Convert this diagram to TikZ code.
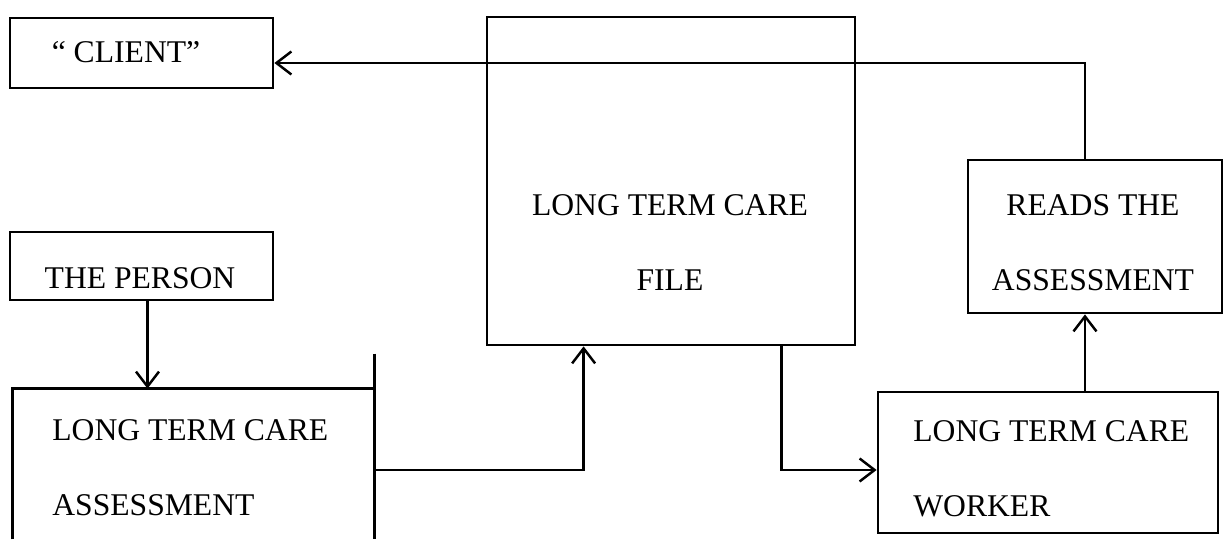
\documentclass[tikz,border=0pt]{standalone}
\usepackage{fontspec}
\setmainfont{Liberation Serif}
\usetikzlibrary{arrows.meta}

\begin{document}
\begin{tikzpicture}[
    x=0.02cm, y=-0.02cm,
    box/.style={draw, line width=1.6pt, rectangle, inner sep=0pt},
    lbl/.style={draw=none, inner sep=0pt, font=\fontsize{18pt}{42.7pt}\selectfont},
    conn/.style={-{Straight Barb[length=0.3cm, width=0.46cm, line width=1.4pt]}, line width=1.4pt}
]
\useasboundingbox (0,0) rectangle (1225,540);
% --- Boxes ---
\node[box, minimum width=5.26cm, minimum height=1.4cm]  (client) at (141.5, 53)  {};
\node[box, minimum width=5.26cm, minimum height=1.36cm] (person) at (141.5, 266) {};
\node[box, draw=none, minimum width=7.18cm, minimum height=2.96cm] (assess) at (193.5, 464) {};
\node[box, minimum width=7.36cm, minimum height=6.56cm] (file)   at (671, 181)   {};
\node[box, minimum width=5.08cm, minimum height=3.06cm] (reads)  at (1095, 236.5) {};
\node[box, minimum width=6.8cm,  minimum height=2.82cm] (worker) at (1048, 462.5) {};
% --- Open box for the assessment ---
\draw[line width=1.6pt] (assess.south west) -- (assess.north west) -- (assess.north east);
\draw[line width=1.6pt] ([yshift=0.7cm]assess.north east) -- (assess.south east);
% --- Texts ---
\node[lbl] (clientlbl) at (126, 52) {`` CLIENT''};
\node[lbl] (personlbl) at (140, 278) {THE PERSON};
\node[lbl, align=left, anchor=north west] (assesslbl) at (52, 419) {LONG TERM CARE\\ASSESSMENT};
\node[lbl, align=center, anchor=north] (filelbl) at (670, 194) {LONG TERM CARE\\FILE};
\node[lbl, align=center, anchor=north] (readslbl) at (1093, 194) {READS THE\\ASSESSMENT};
\node[lbl, align=left, anchor=north west] (workerlbl) at (913, 420) {LONG TERM CARE\\WORKER};
% --- Arrows ---
\draw[conn] ([xshift=0.12cm]person.south) -- ([xshift=0.12cm]person.south |- assess.north);
\draw[conn] ([yshift=-0.12cm]assess.east) -| ([xshift=1.96cm]file.south west);
\draw[conn] ([xshift=-1.5cm]file.south east) |- ([yshift=-0.15cm]worker.west);
\draw[conn] ([xshift=0.74cm]worker.north) -- ([xshift=0.74cm]worker.north |- reads.south);
\draw[conn] ([xshift=-0.2cm]reads.north) |- ([yshift=-0.2cm]client.east);
\end{tikzpicture}
\end{document}
